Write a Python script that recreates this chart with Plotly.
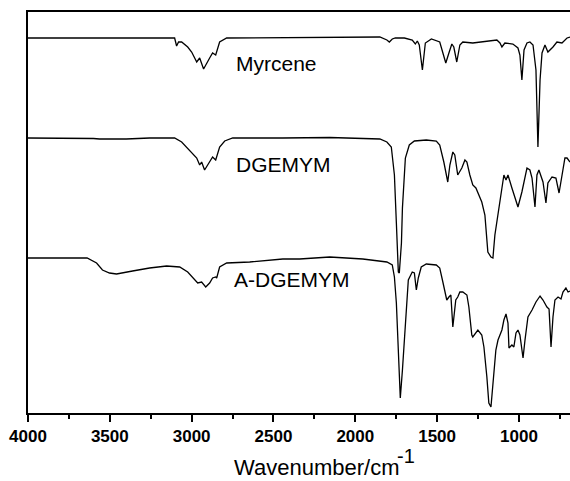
import plotly.graph_objects as go

# Wavenumbers (cm^-1) and offset transmittance (a.u.)
myrcene_wn = [4000, 3807, 3563, 3257, 3104, 3092, 3080, 3061, 3024, 3000, 2969, 2951, 2927,
              2890, 2872, 2853, 2829, 2786, 2445, 2156, 1850, 1807, 1792, 1774, 1755, 1700,
              1652, 1633, 1621, 1609, 1590, 1572, 1535, 1484, 1459, 1447, 1428, 1410, 1398,
              1380, 1361, 1343, 1282, 1196, 1135, 1116, 1104, 1086, 1037, 1006, 994, 982,
              969, 951, 933, 914, 896, 884, 871, 859, 841, 823, 792, 768, 737, 706, 688]
myrcene_t = [375, 375, 375, 375.5, 375, 367, 371, 371, 366, 361, 351, 355, 344,
             355, 360, 358, 371, 375, 375.5, 376, 376, 373, 371, 374, 375, 375,
             373, 369, 372, 368, 343, 370, 374, 371, 358, 350, 360, 369, 366,
             351, 368, 371, 370, 372, 373, 370, 366, 370, 369, 365, 358, 333,
             363, 370, 371, 368, 343, 266, 333, 360, 368, 361, 366, 371, 370, 375, 376]

dgemym_wn = [4000, 3807, 3600, 3563, 3400, 3257, 3104, 3061, 3012, 2969, 2951, 2939, 2921,
             2890, 2872, 2853, 2829, 2798, 2749, 2445, 2156, 1850, 1807, 1780, 1761, 1749,
             1737, 1731, 1718, 1712, 1694, 1670, 1639, 1566, 1505, 1484, 1459, 1435, 1422,
             1404, 1392, 1374, 1349, 1330, 1318, 1300, 1282, 1263, 1251, 1227, 1208, 1190,
             1171, 1159, 1147, 1128, 1104, 1092, 1079, 1067, 1043, 1024, 1006, 982, 951,
             933, 920, 902, 890, 878, 853, 835, 823, 798, 774, 755, 737, 719, 706, 688]
dgemym_t = [275, 275, 274.5, 274, 274, 275, 275, 271, 263, 255, 248, 251, 243,
            251, 256, 253, 266, 272, 275, 275, 275.5, 274, 271, 266, 238, 190,
            141, 140, 170, 205, 255, 268, 272, 273, 272, 268, 251, 231, 248,
            261, 258, 238, 245, 253, 251, 238, 228, 225, 220, 211, 198, 161,
            156, 155, 178, 198, 225, 238, 233, 238, 225, 216, 206, 221, 245,
            243, 235, 206, 238, 243, 231, 210, 230, 236, 235, 220, 238, 255, 255, 251]

adgemym_wn = [4000, 3807, 3639, 3581, 3545, 3502, 3459, 3361, 3257, 3153, 3073, 3024, 2982,
              2963, 2939, 2914, 2890, 2872, 2853, 2847, 2829, 2786, 2645, 2443, 2340, 2156,
              1954, 1807, 1774, 1761, 1749, 1737, 1725, 1712, 1694, 1676, 1652, 1639, 1627,
              1621, 1615, 1597, 1566, 1505, 1484, 1465, 1441, 1428, 1416, 1404, 1386, 1374,
              1361, 1343, 1318, 1306, 1288, 1282, 1263, 1251, 1227, 1214, 1196, 1184, 1171,
              1159, 1141, 1128, 1104, 1092, 1079, 1067, 1061, 1043, 1031, 1018, 1006, 994,
              975, 963, 945, 920, 896, 871, 853, 829, 816, 804, 792, 780, 761, 743, 731,
              713, 700, 688]
adgemym_t = [155, 155, 155, 150, 143, 140, 139, 142, 145, 147, 146, 141, 133,
             130, 131, 126, 130, 135, 136, 135, 146, 150, 151, 154, 154, 156,
             154, 151, 148, 136, 110, 60, 15, 43, 93, 133, 141, 140, 123,
             131, 135, 146, 149, 148, 145, 131, 113, 116, 118, 86, 113, 116,
             121, 121, 118, 106, 78, 76, 81, 83, 78, 66, 36, 10, 6,
             26, 63, 73, 83, 93, 99, 90, 65, 68, 66, 80, 83, 78,
             55, 73, 96, 103, 111, 117, 113, 106, 104, 66, 96, 113, 116, 114, 121,
             125, 121, 122]

labels = ["Myrcene", "DGEMYM", "A-DGEMYM"]
label_wn = [2743, 2743, 2753]
label_t = [350, 248.5, 134]

fig = go.Figure()
for wn, t, name in [(myrcene_wn, myrcene_t, labels[0]),
                    (dgemym_wn, dgemym_t, labels[1]),
                    (adgemym_wn, adgemym_t, labels[2])]:
    fig.add_trace(go.Scatter(x=wn, y=t, mode="lines", name=name,
                             line=dict(color="black", width=1.3), showlegend=False))

for name, xw, yt in zip(labels, label_wn, label_t):
    fig.add_annotation(x=xw, y=yt, text=name, showarrow=False, xanchor="left",
                       yanchor="middle", font=dict(family="Liberation Sans, Arial", size=21, color="black"))

fig.add_annotation(xref="paper", yref="paper", x=0.3765, y=-0.137, text="Wavenumber/cm",
                   showarrow=False, xanchor="left", yanchor="middle",
                   font=dict(family="Liberation Sans, Arial", size=22, color="black"))
fig.add_annotation(xref="paper", yref="paper", x=0.677, y=-0.1075, text="-1",
                   showarrow=False, xanchor="left", yanchor="middle",
                   font=dict(family="Liberation Sans, Arial", size=20, color="black"))

axis_common = dict(showgrid=False, zeroline=False, linecolor="black", linewidth=2)
fig.update_layout(
    width=570, height=481,
    margin=dict(l=28, r=0, t=12, b=68),
    paper_bgcolor="white", plot_bgcolor="white",
    xaxis=dict(range=[4000, 688], showline=True, mirror=True, ticks="outside",
               ticklen=7, tickwidth=2, tickcolor="black", tick0=0, dtick=500,
               minor=dict(ticks="outside", ticklen=4, tickwidth=2, tickcolor="black", dtick=250),
               tickfont=dict(family="Liberation Sans, Arial", size=17, color="black", weight="bold"),
               **axis_common),
    xaxis2=dict(range=[4000, 688], overlaying="x", side="top", showticklabels=False,
                ticks="outside", ticklen=2, tickwidth=1, tickcolor="black", tick0=0, dtick=250,
                showline=False, showgrid=False, zeroline=False),
    yaxis=dict(range=[0, 401], showline=True, showticklabels=False, ticks="", **axis_common),
)

fig.write_html("out.html")
